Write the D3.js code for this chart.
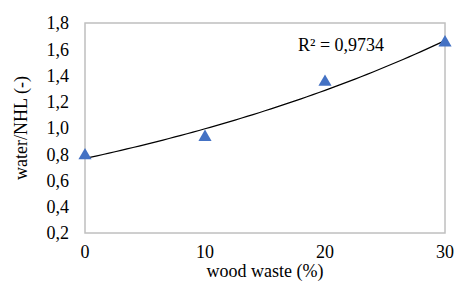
<!DOCTYPE html>
<html>
<head>
<meta charset="utf-8">
<script src="https://cdn.jsdelivr.net/npm/d3@7"></script>
<style>
  body { margin: 0; background: #fff; }
  svg text { font-family: "Liberation Serif", "Times New Roman", serif; }
</style>
</head>
<body>
<script>
// wood waste content (%) and measured water/NHL ratio
const woodWaste = [0, 10, 20, 30];
const waterNHL = [0.79, 0.93, 1.35, 1.65];
const yTicks = [0.2, 0.4, 0.6, 0.8, 1.0, 1.2, 1.4, 1.6, 1.8];
const xTicks = [0, 10, 20, 30];
const r2Label = "R² = 0,9734";

const width = 454, height = 281;
const margin = {top: 23, right: 9, bottom: 48, left: 85};

const svg = d3.select("body").append("svg")
    .attr("width", width)
    .attr("height", height);

const x = d3.scaleLinear()
    .domain([0, 30])
    .range([margin.left, width - margin.right]);

const y = d3.scaleLinear()
    .domain([0.2, 1.8])
    .range([height - margin.bottom, margin.top]);

const fmt = d => d3.format(".1f")(d).replace(".", ",");

// plot frame
svg.append("rect")
    .attr("x", x(0))
    .attr("y", y(1.8))
    .attr("width", x(30) - x(0))
    .attr("height", y(0.2) - y(1.8))
    .attr("fill", "none")
    .attr("stroke", "#bfbfbf")
    .attr("stroke-width", 1.5);

// y axis labels
svg.append("g")
  .selectAll("text")
  .data(yTicks)
  .join("text")
    .attr("x", x(0) - 16)
    .attr("y", d => y(d))
    .attr("dy", "0.35em")
    .attr("text-anchor", "end")
    .attr("font-size", 18)
    .text(fmt);

// x axis labels
svg.append("g")
  .selectAll("text")
  .data(xTicks)
  .join("text")
    .attr("x", d => x(d))
    .attr("y", y(0.2) + 25)
    .attr("text-anchor", "middle")
    .attr("font-size", 18)
    .text(d => d);

// axis titles
svg.append("text")
    .attr("transform", `translate(27,${(y(0.2) + y(1.8)) / 2}) rotate(-90)`)
    .attr("text-anchor", "middle")
    .attr("font-size", 18)
    .text("water/NHL (-)");

svg.append("text")
    .attr("x", (x(0) + x(30)) / 2)
    .attr("y", 277)
    .attr("text-anchor", "middle")
    .attr("font-size", 18)
    .text("wood waste (%)");

// exponential trendline, least squares on ln(y)
const lx = d3.mean(woodWaste);
const ly = d3.mean(waterNHL, v => Math.log(v));
let sxy = 0, sxx = 0;
woodWaste.forEach((v, i) => {
  sxy += (v - lx) * (Math.log(waterNHL[i]) - ly);
  sxx += (v - lx) * (v - lx);
});
const b = sxy / sxx;
const a = Math.exp(ly - b * lx);

const trend = d3.range(0, 30.01, 0.5).map(t => [t, a * Math.exp(b * t)]);

svg.append("path")
    .datum(trend)
    .attr("fill", "none")
    .attr("stroke", "#000")
    .attr("stroke-width", 1.2)
    .attr("d", d3.line().x(d => x(d[0])).y(d => y(d[1])));

// markers
svg.append("g")
  .selectAll("path")
  .data(woodWaste.map((v, i) => [v, waterNHL[i]]))
  .join("path")
    .attr("transform", d => `translate(${x(d[0])},${y(d[1])})`)
    .attr("d", d3.symbol(d3.symbolTriangle, 75))
    .attr("fill", "#4472c4");

svg.append("text")
    .attr("x", 298)
    .attr("y", 51)
    .attr("font-size", 18)
    .text(r2Label);
</script>
</body>
</html>
